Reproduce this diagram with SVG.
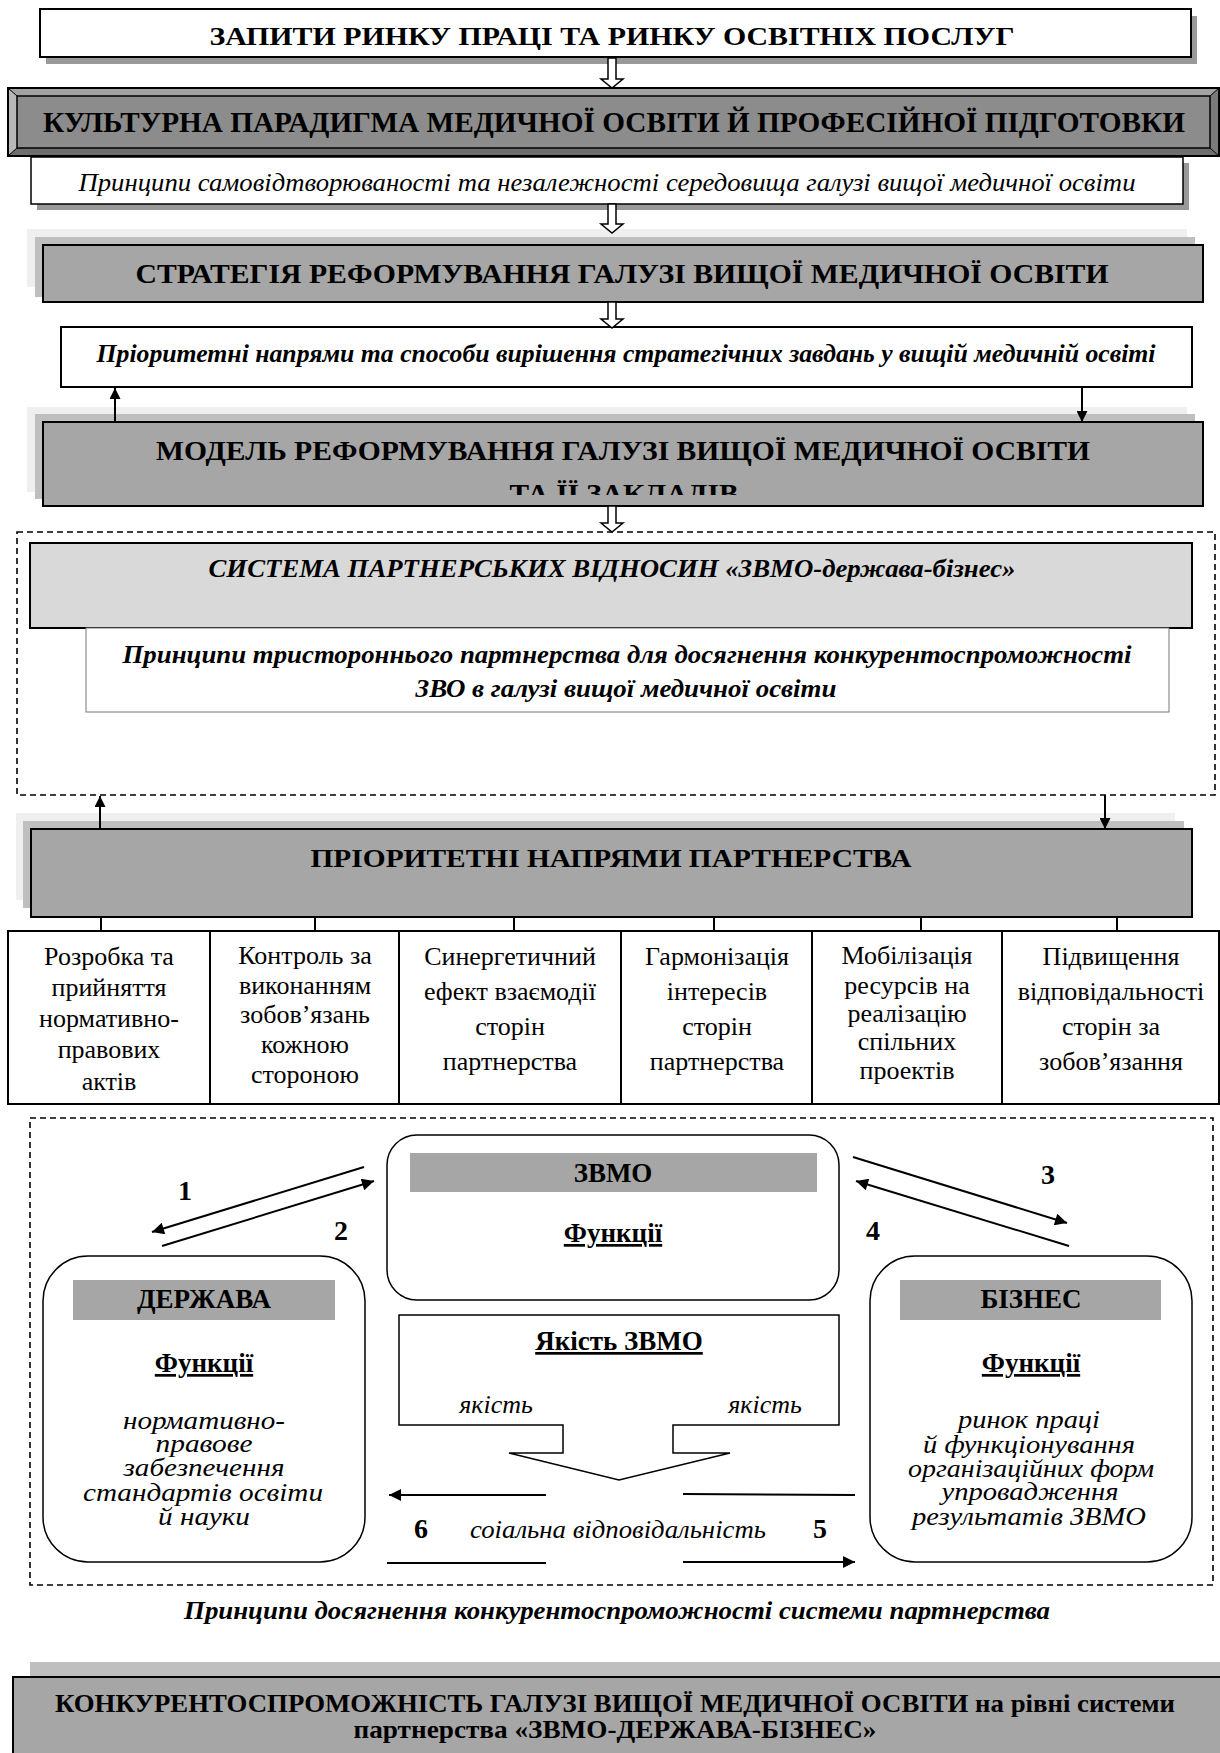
<svg xmlns="http://www.w3.org/2000/svg" width="1220" height="1753" viewBox="0 0 1220 1753">
<style>
text{font-family:"Liberation Serif","Times New Roman",serif;fill:#000}
.b{font-weight:bold}
.i{font-style:italic}
.m{text-anchor:middle}
.u{text-decoration:underline}
.box{stroke:#000;stroke-width:2}
.shadow{fill:#999}
.l1{fill:#efefef}
.l2{fill:#bfbfbf}
.gray{fill:#a6a6a6}
.dash{fill:none;stroke:#000;stroke-width:1.6;stroke-dasharray:6 4}
.ln{stroke:#000;stroke-width:2;fill:none}
.hollow{fill:#fff;stroke:#000;stroke-width:1.5}
.cell{font-size:26px}
.fn{font-size:27px}
.num{font-size:28px}
.fx{font-size:26px}
</style>
<defs>
<marker id="ah" viewBox="0 0 10 10" refX="10" refY="5" markerWidth="15" markerHeight="12" markerUnits="userSpaceOnUse" orient="auto">
<path d="M0,0 L10,5 L0,10 z" fill="#000"/>
</marker>
<marker id="ahs" viewBox="0 0 10 10" refX="10" refY="5" markerWidth="14" markerHeight="11" markerUnits="userSpaceOnUse" orient="auto">
<path d="M0,0 L10,5 L0,10 z" fill="#000"/>
</marker>
<clipPath id="clipModel"><rect x="43" y="422" width="1160" height="73"/></clipPath>
</defs>

<g id="node-requests">
<rect class="shadow" x="46" y="16" width="1151" height="48"/>
<rect class="box" x="40" y="9" width="1151" height="48" fill="#fff"/>
<text class="b m" x="612" y="45" font-size="26" textLength="805" lengthAdjust="spacingAndGlyphs">ЗАПИТИ РИНКУ ПРАЦІ ТА РИНКУ ОСВІТНІХ ПОСЛУГ</text>
</g>

<g id="node-culture">
<rect x="8" y="88" width="1211" height="68" fill="#8c8c8c"/>
<polygon points="8,88 1219,88 1210,96 17,96" fill="#a3a3a3"/>
<polygon points="8,88 17,96 17,148 8,156" fill="#b8b8b8"/>
<polygon points="8,156 17,148 1210,148 1219,156" fill="#6e6e6e"/>
<polygon points="1219,88 1210,96 1210,148 1219,156" fill="#7a7a7a"/>
<rect x="8" y="88" width="1211" height="68" fill="none" stroke="#000" stroke-width="2"/>
<rect x="17" y="96" width="1193" height="52" fill="none" stroke="#000" stroke-width="1.5"/>
<line x1="8" y1="88" x2="17" y2="96" stroke="#000" stroke-width="1"/>
<line x1="1219" y1="88" x2="1210" y2="96" stroke="#000" stroke-width="1"/>
<line x1="8" y1="156" x2="17" y2="148" stroke="#000" stroke-width="1"/>
<line x1="1219" y1="156" x2="1210" y2="148" stroke="#000" stroke-width="1"/>
<text class="b m" x="614" y="132" font-size="29" textLength="1142" lengthAdjust="spacingAndGlyphs">КУЛЬТУРНА ПАРАДИГМА МЕДИЧНОЇ ОСВІТИ Й ПРОФЕСІЙНОЇ ПІДГОТОВКИ</text>
</g>

<g id="node-selfreproduction">
<rect class="shadow" x="37" y="163" width="1152" height="47"/>
<rect x="31" y="157" width="1152" height="47" fill="#fff" stroke="#000" stroke-width="1.5"/>
<text class="i m" x="607" y="191" font-size="25" textLength="1057" lengthAdjust="spacingAndGlyphs">Принципи самовідтворюваності та незалежності середовища галузі вищої медичної освіти</text>
</g>

<g id="node-strategy">
<rect class="l1" x="27" y="229" width="1160" height="58"/>
<rect class="l2" x="35" y="237" width="1160" height="60"/>
<rect class="box gray" x="43" y="245" width="1160" height="57"/>
<text class="b m" x="622" y="283" font-size="27" textLength="973" lengthAdjust="spacingAndGlyphs">СТРАТЕГІЯ РЕФОРМУВАННЯ ГАЛУЗІ ВИЩОЇ МЕДИЧНОЇ ОСВІТИ</text>
</g>

<g id="node-priorities">
<rect class="box" x="61" y="327" width="1131" height="60" fill="#fff"/>
<text class="b i m" x="626" y="362" font-size="25" textLength="1059" lengthAdjust="spacingAndGlyphs">Пріоритетні напрями та способи вирішення стратегічних завдань у вищій медичній освіті</text>
</g>

<g id="node-model">
<rect class="l1" x="27" y="407" width="1160" height="85"/>
<rect class="l2" x="35" y="414" width="1160" height="85"/>
<rect class="box gray" x="43" y="422" width="1160" height="84"/>
<text class="b m" x="623" y="460" font-size="27" textLength="934" lengthAdjust="spacingAndGlyphs">МОДЕЛЬ РЕФОРМУВАННЯ ГАЛУЗІ ВИЩОЇ МЕДИЧНОЇ ОСВІТИ</text>
<text class="b m" x="624" y="503" font-size="27" textLength="229" lengthAdjust="spacingAndGlyphs" clip-path="url(#clipModel)">ТА ЇЇ ЗАКЛАДІВ</text>
</g>

<g id="node-partnership-system">
<rect class="dash" x="17" y="532" width="1198" height="263"/>
<rect class="box" x="30" y="543" width="1162" height="85" fill="#d9d9d9"/>
<text class="b i m" x="612" y="577" font-size="25" textLength="807" lengthAdjust="spacingAndGlyphs">СИСТЕМА ПАРТНЕРСЬКИХ ВІДНОСИН «ЗВМО-держава-бізнес»</text>
<rect x="86" y="628" width="1083" height="84" fill="#fff" stroke="#777" stroke-width="1"/>
<text class="b i m" x="627" y="663" font-size="25" textLength="1009" lengthAdjust="spacingAndGlyphs">Принципи тристороннього партнерства для досягнення конкурентоспроможності</text>
<text class="b i m" x="626" y="697" font-size="25" textLength="421" lengthAdjust="spacingAndGlyphs">ЗВО в галузі вищої медичної освіти</text>
</g>

<g id="node-partnership-directions">
<rect class="l1" x="16" y="813" width="1159" height="87"/>
<rect class="l2" x="23" y="821" width="1161" height="87"/>
<rect class="box gray" x="31" y="829" width="1161" height="88"/>
<text class="b m" x="611" y="867" font-size="26" textLength="601" lengthAdjust="spacingAndGlyphs">ПРІОРИТЕТНІ НАПРЯМИ ПАРТНЕРСТВА</text>
</g>

<g id="node-directions-table">
<rect class="box" x="8" y="931" width="1211" height="173" fill="#fff"/>
<line class="ln" x1="210" y1="931" x2="210" y2="1104"/>
<line class="ln" x1="399" y1="931" x2="399" y2="1104"/>
<line class="ln" x1="621" y1="931" x2="621" y2="1104"/>
<line class="ln" x1="812" y1="931" x2="812" y2="1104"/>
<line class="ln" x1="1002" y1="931" x2="1002" y2="1104"/>
<text class="cell m" x="109"><tspan x="109" y="965">Розробка та</tspan><tspan x="109" y="996">прийняття</tspan><tspan x="109" y="1027">нормативно-</tspan><tspan x="109" y="1058">правових</tspan><tspan x="109" y="1090">актів</tspan></text>
<text class="cell m" x="305"><tspan x="305" y="964">Контроль за</tspan><tspan x="305" y="994">виконанням</tspan><tspan x="305" y="1023">зобов’язань</tspan><tspan x="305" y="1053">кожною</tspan><tspan x="305" y="1083">стороною</tspan></text>
<text class="cell m" x="510"><tspan x="510" y="965">Синергетичний</tspan><tspan x="510" y="1000">ефект взаємодії</tspan><tspan x="510" y="1035">сторін</tspan><tspan x="510" y="1070">партнерства</tspan></text>
<text class="cell m" x="717"><tspan x="717" y="965">Гармонізація</tspan><tspan x="717" y="1000">інтересів</tspan><tspan x="717" y="1035">сторін</tspan><tspan x="717" y="1070">партнерства</tspan></text>
<text class="cell m" x="907"><tspan x="907" y="964">Мобілізація</tspan><tspan x="907" y="994">ресурсів на</tspan><tspan x="907" y="1022">реалізацію</tspan><tspan x="907" y="1050">спільних</tspan><tspan x="907" y="1079">проектів</tspan></text>
<text class="cell m" x="1111"><tspan x="1111" y="965">Підвищення</tspan><tspan x="1111" y="1000">відповідальності</tspan><tspan x="1111" y="1035">сторін за</tspan><tspan x="1111" y="1070">зобов’язання</tspan></text>
</g>

<g id="node-interaction-frame">
<rect class="dash" x="30" y="1118" width="1183" height="467"/>
</g>

<g id="node-zvmo">
<rect x="387" y="1135" width="452" height="165" rx="30" fill="#fff" stroke="#000" stroke-width="1.5"/>
<rect class="gray" x="410" y="1153" width="407" height="39"/>
<text class="b m" x="613" y="1182" font-size="27">ЗВМО</text>
<text class="b m u fn" x="613" y="1242">Функції</text>
</g>

<g id="node-state">
<rect x="43" y="1256" width="322" height="306" rx="45" fill="#fff" stroke="#000" stroke-width="1.5"/>
<rect class="gray" x="73" y="1280" width="262" height="40"/>
<text class="b m" x="204" y="1308" font-size="27">ДЕРЖАВА</text>
<text class="b m u fn" x="204" y="1372">Функції</text>
<text class="i m fx" x="204" y="1429" textLength="162" lengthAdjust="spacingAndGlyphs">нормативно-</text>
<text class="i m fx" x="204" y="1452" textLength="97" lengthAdjust="spacingAndGlyphs">правове</text>
<text class="i m fx" x="204" y="1476" textLength="161" lengthAdjust="spacingAndGlyphs">забезпечення</text>
<text class="i m fx" x="203" y="1501" textLength="240" lengthAdjust="spacingAndGlyphs">стандартів освіти</text>
<text class="i m fx" x="204" y="1525" textLength="92" lengthAdjust="spacingAndGlyphs">й науки</text>
</g>

<g id="node-business">
<rect x="870" y="1256" width="322" height="306" rx="45" fill="#fff" stroke="#000" stroke-width="1.5"/>
<rect class="gray" x="900" y="1280" width="261" height="40"/>
<text class="b m" x="1031" y="1308" font-size="27">БІЗНЕС</text>
<text class="b m u fn" x="1031" y="1372">Функції</text>
<text class="i m fx" x="1029" y="1428" textLength="142" lengthAdjust="spacingAndGlyphs">ринок праці</text>
<text class="i m fx" x="1029" y="1453" textLength="212" lengthAdjust="spacingAndGlyphs">й функціонування</text>
<text class="i m fx" x="1031" y="1477" textLength="246" lengthAdjust="spacingAndGlyphs">організаційних форм</text>
<text class="i m fx" x="1030" y="1500" textLength="177" lengthAdjust="spacingAndGlyphs">упровадження</text>
<text class="i m fx" x="1029" y="1525" textLength="234" lengthAdjust="spacingAndGlyphs">результатів ЗВМО</text>
</g>

<g id="node-quality">
<polygon points="399,1315 399,1425 563,1425 563,1453 509,1453 619,1480 730,1453 673,1453 673,1425 839,1425 839,1315" fill="#fff" stroke="#000" stroke-width="1.5"/>
<text class="b m u" x="619" y="1350" font-size="27">Якість ЗВМО</text>
<text class="i m" x="496" y="1413" font-size="26">якість</text>
<text class="i m" x="765" y="1413" font-size="26">якість</text>
</g>

<g id="connectors">
<path class="hollow" d="M608,58 L616,58 L616,79 L623,79 L612,88 L601,79 L608,79 Z"/>
<path class="hollow" d="M608,204 L616,204 L616,224 L623,224 L612,233 L601,224 L608,224 Z"/>
<path class="hollow" d="M608,302 L616,302 L616,319 L623,319 L612,328 L601,319 L608,319 Z"/>
<path class="hollow" d="M608,506 L616,506 L616,523 L623,523 L612,532 L601,523 L608,523 Z"/>
<line class="ln" x1="115" y1="422" x2="115" y2="388" marker-end="url(#ahs)"/>
<line class="ln" x1="1082" y1="387" x2="1082" y2="422" marker-end="url(#ahs)"/>
<line class="ln" x1="100" y1="829" x2="100" y2="796" marker-end="url(#ahs)"/>
<line class="ln" x1="1105" y1="795" x2="1105" y2="829" marker-end="url(#ahs)"/>
<line class="ln" x1="101" y1="917" x2="101" y2="931"/>
<line class="ln" x1="315" y1="917" x2="315" y2="931"/>
<line class="ln" x1="514" y1="917" x2="514" y2="931"/>
<line class="ln" x1="714" y1="917" x2="714" y2="931"/>
<line class="ln" x1="921" y1="917" x2="921" y2="931"/>
<line class="ln" x1="1117" y1="917" x2="1117" y2="931"/>
<line class="ln" x1="364" y1="1167" x2="152" y2="1232" marker-end="url(#ah)"/>
<line class="ln" x1="162" y1="1246" x2="374" y2="1181" marker-end="url(#ah)"/>
<line class="ln" x1="853" y1="1157" x2="1067" y2="1223" marker-end="url(#ah)"/>
<line class="ln" x1="1069" y1="1246" x2="856" y2="1181" marker-end="url(#ah)"/>
<line class="ln" x1="546" y1="1495" x2="389" y2="1495" marker-end="url(#ah)"/>
<line class="ln" x1="683" y1="1494" x2="855" y2="1495"/>
<line class="ln" x1="387" y1="1563" x2="546" y2="1563"/>
<line class="ln" x1="683" y1="1562" x2="855" y2="1562" marker-end="url(#ah)"/>
<text class="b m num" x="185" y="1200">1</text>
<text class="b m num" x="341" y="1240">2</text>
<text class="b m num" x="1048" y="1184">3</text>
<text class="b m num" x="873" y="1240">4</text>
<text class="b m num" x="820" y="1538">5</text>
<text class="b m num" x="421" y="1538">6</text>
<text class="i m" x="618" y="1538" font-size="26" textLength="296" lengthAdjust="spacingAndGlyphs">соіальна відповідальність</text>
</g>

<g id="node-principles-competitiveness">
<text class="b i m" x="617" y="1619" font-size="25" textLength="866" lengthAdjust="spacingAndGlyphs">Принципи досягнення конкурентоспроможності системи партнерства</text>
</g>

<g id="node-competitiveness">
<rect class="l2" x="30" y="1662" width="1190" height="20"/>
<rect class="box gray" x="13" y="1677" width="1215" height="90"/>
<text class="b m" x="615" y="1712" font-size="25" textLength="1120" lengthAdjust="spacingAndGlyphs">КОНКУРЕНТОСПРОМОЖНІСТЬ ГАЛУЗІ ВИЩОЇ МЕДИЧНОЇ ОСВІТИ на рівні системи</text>
<text class="b m" x="615" y="1738" font-size="25" textLength="523" lengthAdjust="spacingAndGlyphs">партнерства «ЗВМО-ДЕРЖАВА-БІЗНЕС»</text>
</g>
</svg>
